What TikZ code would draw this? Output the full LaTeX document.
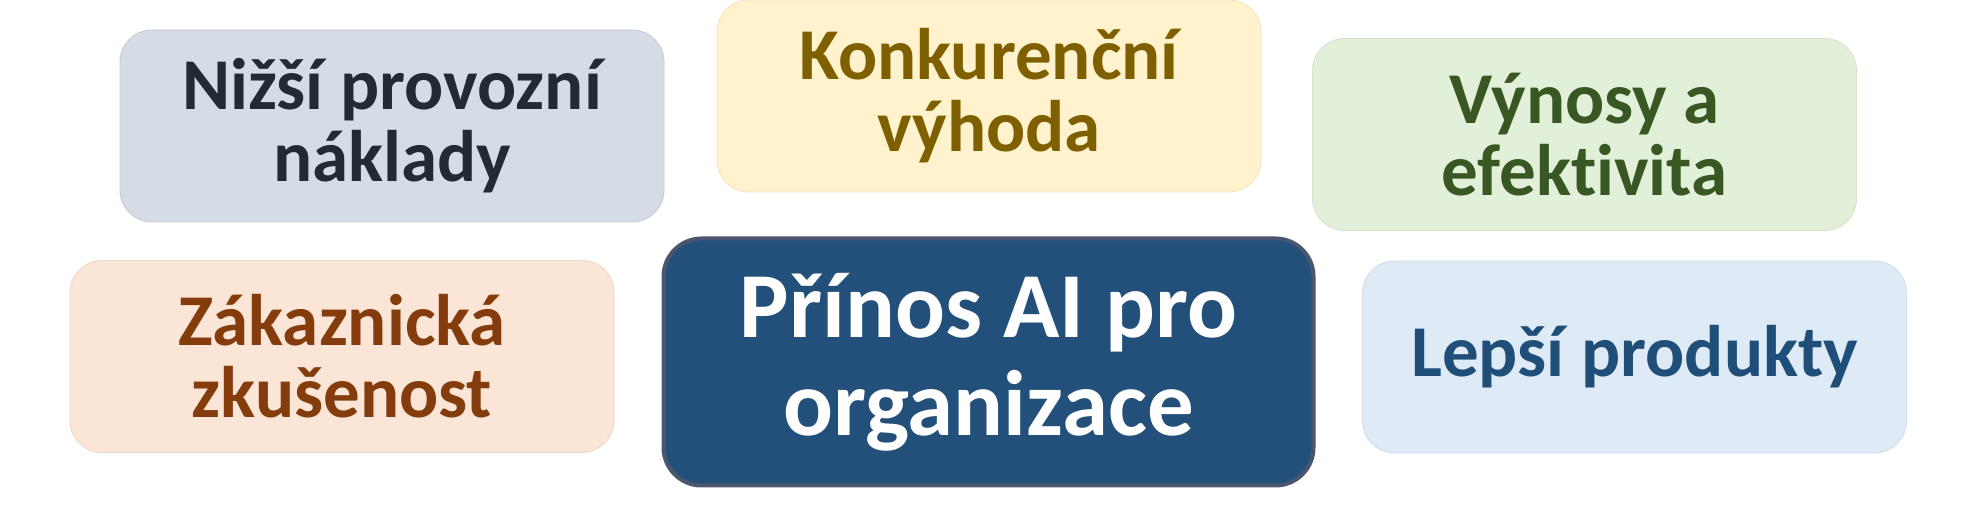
\documentclass[tikz,border=0pt]{standalone}
\usepackage{fontspec}
\setmainfont{Carlito}[RawFeature={-liga;-calt;-dlig;-clig}]
\definecolor{f1}{HTML}{D6DCE5}\definecolor{t1}{HTML}{222A35}
\definecolor{f2}{HTML}{FFF2CC}\definecolor{t2}{HTML}{7F6000}
\definecolor{f3}{HTML}{E2F0D9}\definecolor{t3}{HTML}{385723}
\definecolor{f4}{HTML}{FBE5D6}\definecolor{t4}{HTML}{843C0C}
\definecolor{f6}{HTML}{DEEBF7}\definecolor{t6}{HTML}{1F4E79}
\definecolor{fc}{HTML}{22507A}\definecolor{bc}{HTML}{4A5670}
\begin{document}
\begin{tikzpicture}[x=0.5pt,y=-0.5pt,
  card/.style={rounded corners=16pt, minimum width=272pt, minimum height=96pt,
    inner sep=0pt, align=center, font=\bfseries\fontsize{36.5}{36}\selectfont},
  hub/.style={rounded corners=19pt, minimum width=325pt, minimum height=123.5pt,
    inner sep=0pt, align=center, fill=fc, draw=bc, line width=2pt, text=white,
    font=\bfseries\fontsize{46.5}{49}\selectfont}]
\useasboundingbox[fill=white] (0,0) rectangle (1969,528);
\node[card, fill=f1, draw=f1!92!black, line width=0.4pt, text=t1] (b1) at (392,126) {Nižší provozní\\náklady};
\node[card, fill=f2, draw=f2!94!black, line width=0.4pt, text=t2] (b2) at (989,96) {Konkurenční\\výhoda};
\node[card, fill=f3, draw=f3!94!black, line width=0.4pt, text=t3] (b3) at (1584.5,134.5) {Výnosy a\\efektivita};
\node[card, fill=f4, draw=f4!94!black, line width=0.4pt, text=t4] (b4) at (342,356.5) {Zákaznická\\zkušenost};
\node[card, fill=f6, draw=f6!94!black, line width=0.4pt, text=t6] (b6) at (1634.5,357) {Lepší produkty};
\node[hub] (hub) at (988.5,362) {Přínos AI pro\\organizace};
\end{tikzpicture}
\end{document}
